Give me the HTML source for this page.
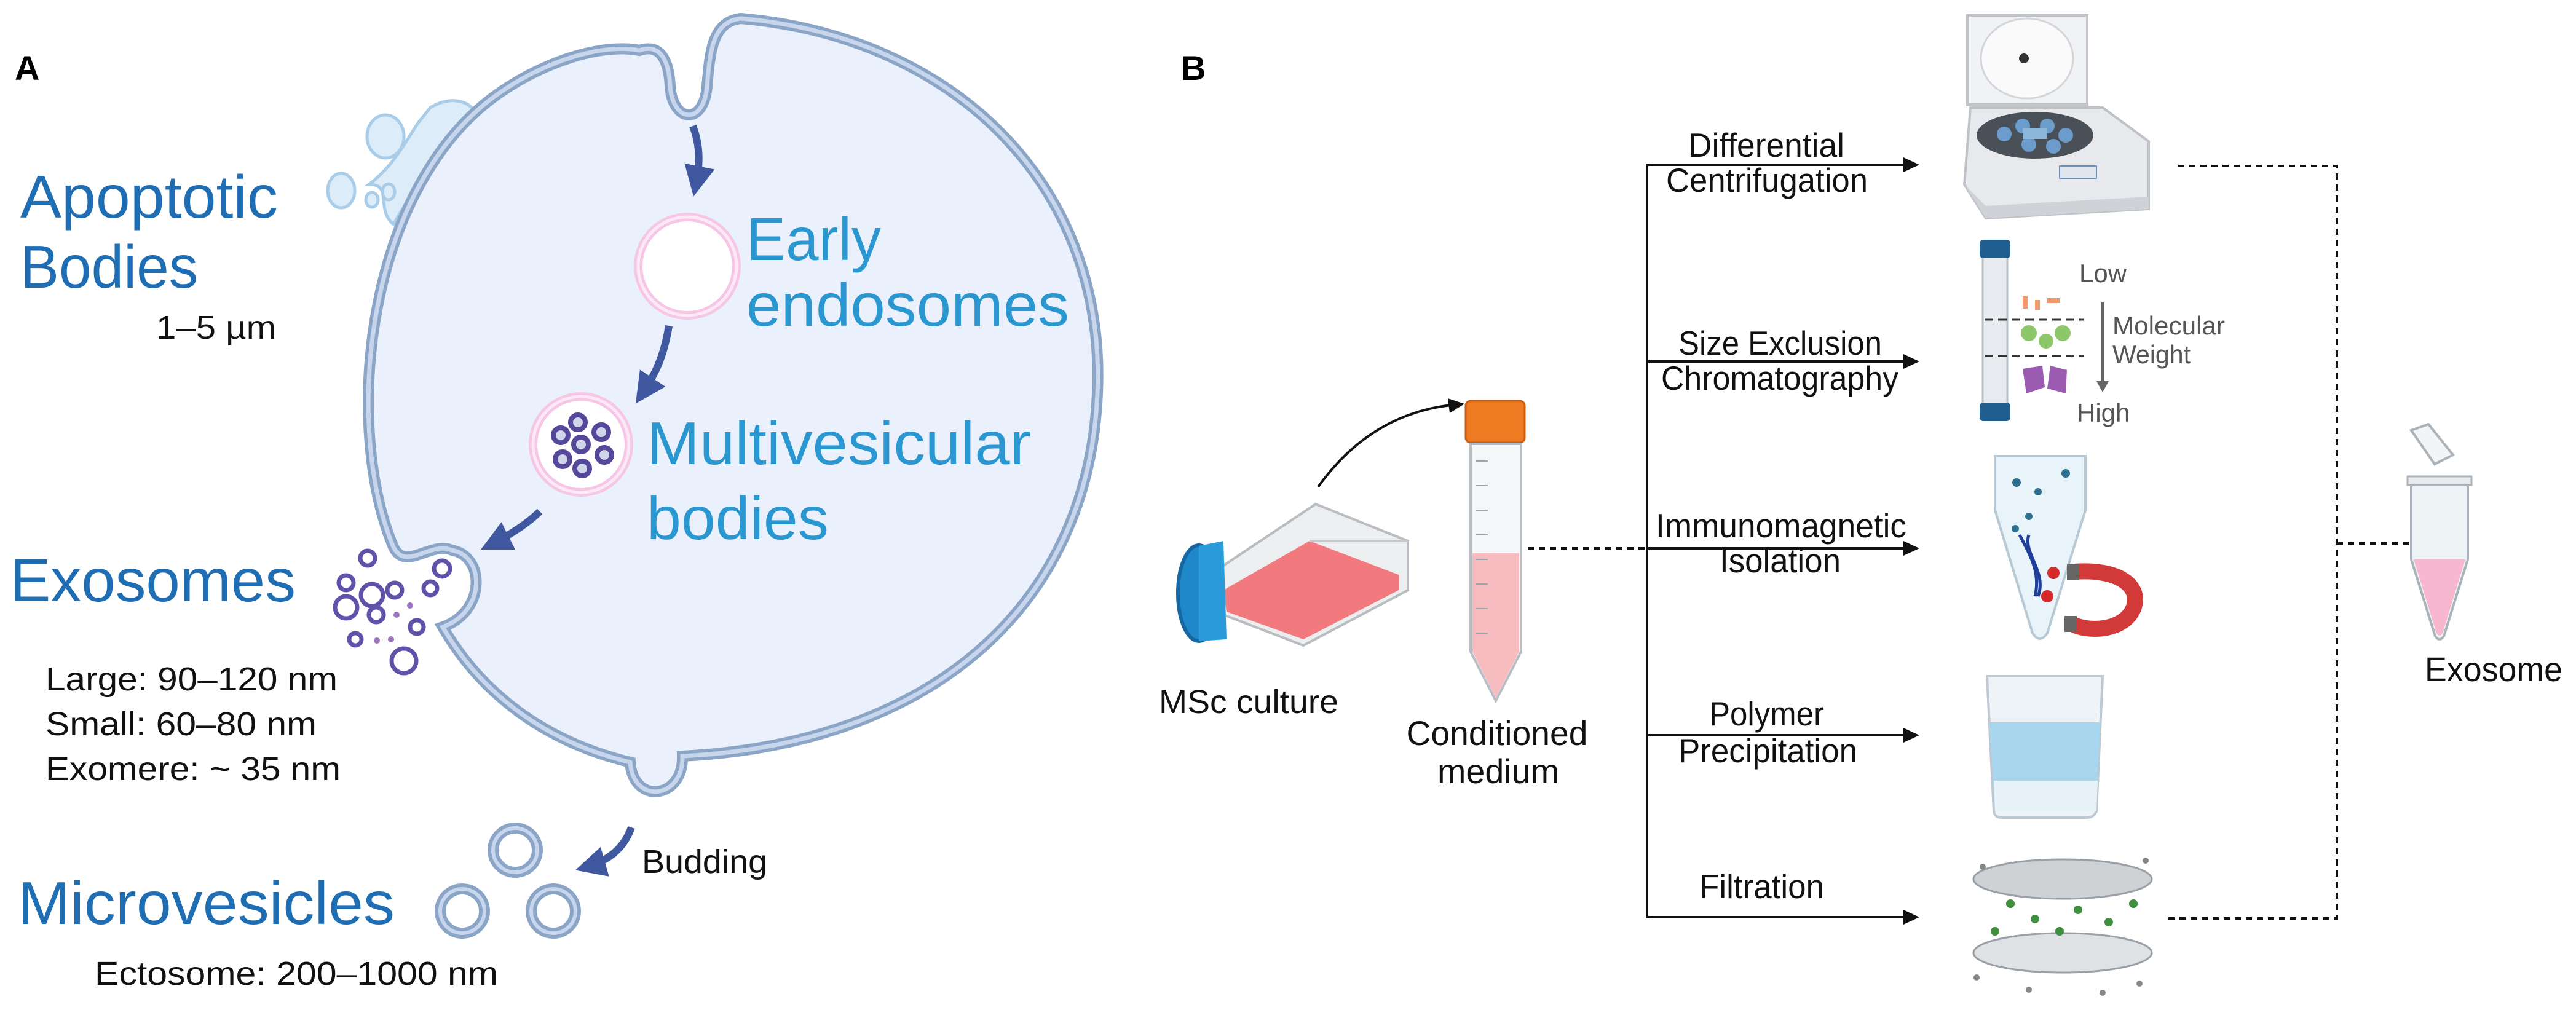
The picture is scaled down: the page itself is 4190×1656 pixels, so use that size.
<!DOCTYPE html>
<html><head><meta charset="utf-8"><style>
html,body{margin:0;padding:0;background:#fff;}
svg{display:block;}
text{font-family:"Liberation Sans",sans-serif;}
</style></head><body>
<svg width="4190" height="1656" viewBox="0 0 4190 1656" xmlns="http://www.w3.org/2000/svg">
<defs>
<marker id="ah" markerWidth="10" markerHeight="10" refX="8" refY="5" orient="auto" markerUnits="userSpaceOnUse" viewBox="0 0 10 10">
<path d="M0,0 L10,5 L0,10 Z" fill="#111"/></marker>
<marker id="ahb" viewBox="0 0 10 10" refX="6" refY="5" markerWidth="50" markerHeight="50" orient="auto" markerUnits="userSpaceOnUse"><path d="M0,0 L10,5 L0,10 Z" fill="#3f58a0"/></marker>
</defs>
<rect width="4190" height="1656" fill="#fff"/>

<!-- Panel A -->
<text x="24" y="130" font-size="56" font-weight="bold" fill="#000">A</text>

<!-- apoptotic blobs -->
<g fill="#dcecf9" stroke="#a9cde8" stroke-width="5">
<path d="M700 175 C740 150 780 170 776 200 C700 260 660 330 640 365 C610 340 640 300 600 300 C640 270 660 230 680 200 Z"/>
<ellipse cx="627" cy="222" rx="30" ry="35"/>
<ellipse cx="632" cy="312" rx="10" ry="13"/>
<ellipse cx="605" cy="325" rx="10" ry="12"/>
<ellipse cx="555" cy="310" rx="22" ry="28"/>
</g>

<!-- cell -->
<path id="cell" d="M1040 82 C1075 70 1088 100 1090 140 C1094 200 1145 205 1150 140 C1155 80 1160 35 1205 30 C1550 60 1800 300 1785 640 C1770 990 1510 1210 1110 1230 C1112 1300 1030 1310 1025 1240 C900 1210 790 1140 720 1020 C790 995 790 905 735 895 C700 880 660 930 640 890 C560 700 590 320 800 160 C880 100 980 70 1040 82 Z" fill="#ebf1fc" stroke="#8ba5c7" stroke-width="18"/>
<path d="M1040 82 C1075 70 1088 100 1090 140 C1094 200 1145 205 1150 140 C1155 80 1160 35 1205 30 C1550 60 1800 300 1785 640 C1770 990 1510 1210 1110 1230 C1112 1300 1030 1310 1025 1240 C900 1210 790 1140 720 1020 C790 995 790 905 735 895 C700 880 660 930 640 890 C560 700 590 320 800 160 C880 100 980 70 1040 82 Z" fill="none" stroke="#c7d6ec" stroke-width="7"/>

<!-- endosomes -->
<circle cx="1118" cy="433" r="80" fill="#fff" stroke="#f5c6e6" stroke-width="14"/>
<circle cx="1118" cy="433" r="80" fill="none" stroke="#fde9f5" stroke-width="5"/>
<circle cx="945" cy="723" r="78" fill="#fff" stroke="#f5c6e6" stroke-width="14"/>
<circle cx="945" cy="723" r="78" fill="none" stroke="#fde9f5" stroke-width="5"/>
<g fill="#cfd6ea" stroke="#55479a" stroke-width="8">
<circle cx="940" cy="687" r="12"/><circle cx="912" cy="708" r="12"/><circle cx="978" cy="703" r="12"/>
<circle cx="945" cy="723" r="12"/><circle cx="915" cy="747" r="12"/><circle cx="983" cy="740" r="12"/><circle cx="947" cy="762" r="12"/>
</g>

<!-- blue arrows -->
<g fill="none" stroke="#3f58a0" stroke-width="12" marker-end="url(#ahb)">
<path d="M1127 205 C1140 240 1138 270 1132 300"/>
<path d="M1088 530 C1080 580 1065 610 1045 640"/>
<path d="M878 832 C860 850 830 870 800 885"/>
<path d="M1027 1346 C1015 1380 990 1400 955 1410"/>
</g>

<!-- exosomes -->
<g fill="none" stroke="#6052a8" stroke-width="7">
<circle cx="598" cy="908" r="12"/><circle cx="719" cy="925" r="13"/><circle cx="563" cy="948" r="12"/>
<circle cx="605" cy="968" r="18"/><circle cx="642" cy="960" r="12"/><circle cx="700" cy="957" r="11"/>
<circle cx="563" cy="988" r="18"/><circle cx="612" cy="1000" r="12"/><circle cx="678" cy="1020" r="11"/>
<circle cx="578" cy="1040" r="10"/><circle cx="657" cy="1075" r="20"/>
</g>
<g fill="#9a74bf"><circle cx="667" cy="985" r="5"/><circle cx="645" cy="1000" r="5"/><circle cx="613" cy="1042" r="5"/><circle cx="636" cy="1040" r="5"/></g>

<!-- microvesicles -->
<g fill="none" stroke="#8ba5c7" stroke-width="18">
<circle cx="838" cy="1383" r="36"/><circle cx="752" cy="1482" r="36"/><circle cx="900" cy="1482" r="36"/>
</g>
<g fill="none" stroke="#c7d6ec" stroke-width="6">
<circle cx="838" cy="1383" r="36"/><circle cx="752" cy="1482" r="36"/><circle cx="900" cy="1482" r="36"/>
</g>

<!-- A texts -->
<g fill="#1f6db3" font-size="98">
<text x="33" y="354" textLength="419" lengthAdjust="spacingAndGlyphs">Apoptotic</text>
<text x="33" y="468" textLength="289" lengthAdjust="spacingAndGlyphs">Bodies</text>
<text x="16" y="978" textLength="465" lengthAdjust="spacingAndGlyphs">Exosomes</text>
<text x="29" y="1503" textLength="613" lengthAdjust="spacingAndGlyphs">Microvesicles</text>
</g>
<g fill="#2b97d1" font-size="98">
<text x="1214" y="423" textLength="219" lengthAdjust="spacingAndGlyphs">Early</text>
<text x="1214" y="530" textLength="525" lengthAdjust="spacingAndGlyphs">endosomes</text>
<text x="1052" y="755" textLength="625" lengthAdjust="spacingAndGlyphs">Multivesicular</text>
<text x="1052" y="877" textLength="296" lengthAdjust="spacingAndGlyphs">bodies</text>
</g>
<g fill="#111" font-size="54">
<text x="254" y="551" textLength="195" lengthAdjust="spacingAndGlyphs">1–5 µm</text>
<text x="74" y="1123" textLength="475" lengthAdjust="spacingAndGlyphs">Large: 90–120 nm</text>
<text x="74" y="1196" textLength="441" lengthAdjust="spacingAndGlyphs">Small: 60–80 nm</text>
<text x="74" y="1269" textLength="480" lengthAdjust="spacingAndGlyphs">Exomere: ~ 35 nm</text>
<text x="154" y="1602" textLength="656" lengthAdjust="spacingAndGlyphs">Ectosome: 200–1000 nm</text>
<text x="1044" y="1420" textLength="204" lengthAdjust="spacingAndGlyphs">Budding</text>
</g>

<!-- Panel B -->
<text x="1921" y="130" font-size="56" font-weight="bold" fill="#000">B</text>

<!-- flask -->
<g>
<path d="M1975 930 L2140 820 L2290 880 L2290 960 L2120 1050 L1990 1000 Z" fill="#eceef0" stroke="#b9bcc0" stroke-width="4"/>
<path d="M1990 960 L2130 880 L2275 935 L2275 960 L2120 1040 L1995 995 Z" fill="#f2797d"/>
<path d="M2130 880 L2290 880" stroke="#c6c9cc" stroke-width="4"/>
<ellipse cx="1950" cy="965" rx="34" ry="78" fill="#1e88c9" stroke="#1566a1" stroke-width="6"/>
<path d="M1950 888 L1990 880 L1995 1040 L1950 1043 Z" fill="#2a9bd9"/>
</g>
<text x="1885" y="1160" font-size="54" fill="#111" textLength="292" lengthAdjust="spacingAndGlyphs">MSc culture</text>
<path d="M2144 792 C2210 700 2290 665 2370 658" fill="none" stroke="#111" stroke-width="4" marker-end="url(#ah)" style=""/>
<path d="M2355 648 L2382 657 L2358 672 Z" fill="#111"/>

<!-- conical tube -->
<rect x="2384" y="652" width="96" height="68" rx="8" fill="#ee7a22" stroke="#c85d12" stroke-width="3"/>
<path d="M2392 722 L2474 722 L2474 1060 L2433 1140 L2392 1060 Z" fill="#f4f6f8" stroke="#b8bec4" stroke-width="4"/>
<path d="M2395 900 L2471 900 L2471 1060 L2433 1135 L2395 1060 Z" fill="#f7bcc0"/>
<g stroke="#9aa4ad" stroke-width="2"><line x1="2400" y1="750" x2="2420" y2="750"/><line x1="2400" y1="790" x2="2420" y2="790"/><line x1="2400" y1="830" x2="2420" y2="830"/><line x1="2400" y1="870" x2="2420" y2="870"/><line x1="2400" y1="910" x2="2420" y2="910"/><line x1="2400" y1="950" x2="2420" y2="950"/><line x1="2400" y1="990" x2="2420" y2="990"/><line x1="2400" y1="1030" x2="2420" y2="1030"/></g>
<g font-size="56" fill="#111" text-anchor="middle">
<text x="2435" y="1212" textLength="295" lengthAdjust="spacingAndGlyphs">Conditioned</text>
<text x="2437" y="1274" textLength="198" lengthAdjust="spacingAndGlyphs">medium</text>
</g>

<!-- connectors -->
<line x1="2485" y1="892" x2="2679" y2="892" stroke="#111" stroke-width="4" stroke-dasharray="10,8"/>
<line x1="2679" y1="268" x2="2679" y2="1494" stroke="#111" stroke-width="4"/>
<g stroke="#111" stroke-width="4">
<line x1="2677" y1="268" x2="3100" y2="268"/>
<line x1="2679" y1="588" x2="3100" y2="588"/>
<line x1="2679" y1="892" x2="3100" y2="892"/>
<line x1="2679" y1="1196" x2="3100" y2="1196"/>
<line x1="2677" y1="1492" x2="3100" y2="1492"/>
</g>
<g fill="#111">
<path d="M3096 256 L3122 268 L3096 280 Z"/>
<path d="M3096 576 L3122 588 L3096 600 Z"/>
<path d="M3096 880 L3122 892 L3096 904 Z"/>
<path d="M3096 1184 L3122 1196 L3096 1208 Z"/>
<path d="M3096 1480 L3122 1492 L3096 1504 Z"/>
</g>
<g font-size="55" fill="#111">
<text x="2746" y="255" textLength="254" lengthAdjust="spacingAndGlyphs">Differential</text>
<text x="2710" y="312" textLength="328" lengthAdjust="spacingAndGlyphs">Centrifugation</text>
<text x="2730" y="577" textLength="331" lengthAdjust="spacingAndGlyphs">Size Exclusion</text>
<text x="2702" y="634" textLength="386" lengthAdjust="spacingAndGlyphs">Chromatography</text>
<text x="2693" y="874" textLength="408" lengthAdjust="spacingAndGlyphs">Immunomagnetic</text>
<text x="2797" y="931" textLength="197" lengthAdjust="spacingAndGlyphs">Isolation</text>
<text x="2780" y="1180" textLength="187" lengthAdjust="spacingAndGlyphs">Polymer</text>
<text x="2730" y="1240" textLength="291" lengthAdjust="spacingAndGlyphs">Precipitation</text>
<text x="2764" y="1461" textLength="203" lengthAdjust="spacingAndGlyphs">Filtration</text>
</g>

<!-- right dotted -->
<g stroke="#111" stroke-width="4" stroke-dasharray="10,8" fill="none">
<path d="M3543 270 L3801 270 L3801 1494 L3523 1494"/>
<line x1="3801" y1="884" x2="3960" y2="884"/>
</g>
<path d="M3955 872 L3980 884 L3955 896 Z" fill="#111"/>

<!-- centrifuge -->
<g>
<path d="M3200 25 L3395 25 L3395 170 L3200 170 Z" fill="#f1f2f4" stroke="#bfc3c8" stroke-width="4"/>
<ellipse cx="3297" cy="95" rx="75" ry="65" fill="#fafafa" stroke="#d2d5d9" stroke-width="3"/>
<circle cx="3292" cy="95" r="8" fill="#333"/>
<path d="M3205 175 L3420 175 L3495 230 L3495 340 L3230 355 L3195 300 Z" fill="#e7e9ec" stroke="#bfc3c8" stroke-width="4"/>
<ellipse cx="3310" cy="220" rx="95" ry="38" fill="#4a5058"/>
<g fill="#6b9ccc"><circle cx="3260" cy="218" r="12"/><circle cx="3290" cy="205" r="12"/><circle cx="3330" cy="205" r="12"/><circle cx="3360" cy="220" r="12"/><circle cx="3300" cy="235" r="12"/><circle cx="3340" cy="238" r="12"/></g>
<rect x="3290" y="208" width="40" height="18" fill="#8db6db"/>
<path d="M3195 300 L3230 355 L3495 340 L3495 320 L3230 335 Z" fill="#cfd3d8"/>
<rect x="3350" y="270" width="60" height="20" fill="#dfe6ee" stroke="#6b8fb8" stroke-width="2"/>
</g>

<!-- column -->
<rect x="3225" y="400" width="40" height="275" rx="6" fill="#e8ecf0" stroke="#b7bfc7" stroke-width="3"/>
<rect x="3220" y="390" width="50" height="30" rx="6" fill="#1f5e8e"/>
<rect x="3220" y="655" width="50" height="30" rx="6" fill="#1f5e8e"/>
<g stroke="#333" stroke-width="3" stroke-dasharray="14,8"><line x1="3228" y1="520" x2="3389" y2="520"/><line x1="3228" y1="579" x2="3389" y2="579"/></g>
<g fill="#f39a6a"><rect x="3290" y="482" width="8" height="20"/><rect x="3310" y="488" width="8" height="16"/><rect x="3330" y="485" width="20" height="8"/></g>
<g fill="#8ec66a"><circle cx="3300" cy="542" r="13"/><circle cx="3328" cy="555" r="12"/><circle cx="3355" cy="542" r="13"/></g>
<g fill="#9a5bb0"><path d="M3290 600 L3322 595 L3326 630 L3296 640 Z"/><path d="M3335 595 L3362 602 L3360 640 L3330 632 Z"/></g>
<line x1="3420" y1="491" x2="3420" y2="625" stroke="#666" stroke-width="4"/>
<path d="M3410 620 L3420 638 L3430 620 Z" fill="#666"/>
<g fill="#555" font-size="42">
<text x="3382" y="459">Low</text>
<text x="3436" y="544" textLength="183" lengthAdjust="spacingAndGlyphs">Molecular</text>
<text x="3436" y="591" textLength="127" lengthAdjust="spacingAndGlyphs">Weight</text>
<text x="3378" y="686">High</text>
</g>

<!-- immunomagnetic tube -->
<path d="M3245 742 L3392 742 L3392 830 L3330 1030 Q3318 1048 3306 1030 L3245 830 Z" fill="#e9f3fa" stroke="#b8c9d6" stroke-width="4"/>
<g fill="#2f6f8f"><circle cx="3280" cy="785" r="7"/><circle cx="3360" cy="770" r="7"/><circle cx="3315" cy="800" r="6"/><circle cx="3278" cy="860" r="6"/><circle cx="3300" cy="840" r="6"/></g>
<path d="M3285 870 C3300 900 3320 930 3310 970 M3300 870 C3290 900 3330 930 3315 970" stroke="#1f3e9a" stroke-width="5" fill="none"/>
<circle cx="3340" cy="932" r="10" fill="#d42a2a"/><circle cx="3330" cy="970" r="10" fill="#d42a2a"/>
<path d="M3375 930 C3440 925 3485 950 3470 990 C3455 1025 3400 1030 3370 1015" fill="none" stroke="#d23a3a" stroke-width="26"/>
<rect x="3362" y="918" width="20" height="26" fill="#666"/><rect x="3358" y="1002" width="20" height="26" fill="#666"/>

<!-- beaker -->
<path d="M3232 1100 L3420 1100 L3410 1320 Q3405 1330 3395 1330 L3255 1330 Q3245 1330 3243 1320 Z" fill="#eef3f7" stroke="#bdc8d2" stroke-width="4"/>
<path d="M3236 1175 L3416 1175 L3410 1320 L3245 1320 Z" fill="#a9d6ef"/>
<path d="M3243 1270 L3412 1270 L3410 1320 L3245 1320 Z" fill="#e6f1f8"/>

<!-- filter -->
<ellipse cx="3355" cy="1430" rx="145" ry="32" fill="#cfd2d5" stroke="#9aa0a6" stroke-width="3"/>
<ellipse cx="3355" cy="1550" rx="145" ry="32" fill="#dfe2e5" stroke="#9aa0a6" stroke-width="3"/>
<g fill="#3f8f3f"><circle cx="3270" cy="1470" r="7"/><circle cx="3310" cy="1495" r="7"/><circle cx="3380" cy="1480" r="7"/><circle cx="3430" cy="1500" r="7"/><circle cx="3245" cy="1515" r="7"/><circle cx="3350" cy="1515" r="7"/><circle cx="3470" cy="1470" r="7"/></g>
<g fill="#888"><circle cx="3225" cy="1410" r="5"/><circle cx="3490" cy="1400" r="5"/><circle cx="3215" cy="1590" r="5"/><circle cx="3480" cy="1600" r="5"/><circle cx="3300" cy="1610" r="5"/><circle cx="3420" cy="1615" r="5"/></g>

<!-- exosome tube -->
<path d="M3922 700 L3950 690 L3990 740 L3960 755 Z" fill="#f2f4f6" stroke="#aab2ba" stroke-width="4"/>
<rect x="3916" y="775" width="104" height="14" fill="#e7ebee" stroke="#aab2ba" stroke-width="3"/>
<path d="M3922 789 L4014 789 L4014 910 L3975 1035 Q3968 1045 3961 1035 L3922 910 Z" fill="#eef3f6" stroke="#aab2ba" stroke-width="4"/>
<path d="M3926 910 L4010 910 L3973 1030 Q3968 1038 3963 1030 Z" fill="#f7b7cf"/>
<text x="3944" y="1108" font-size="56" fill="#111" textLength="224" lengthAdjust="spacingAndGlyphs">Exosome</text>
</svg>
</body></html>
